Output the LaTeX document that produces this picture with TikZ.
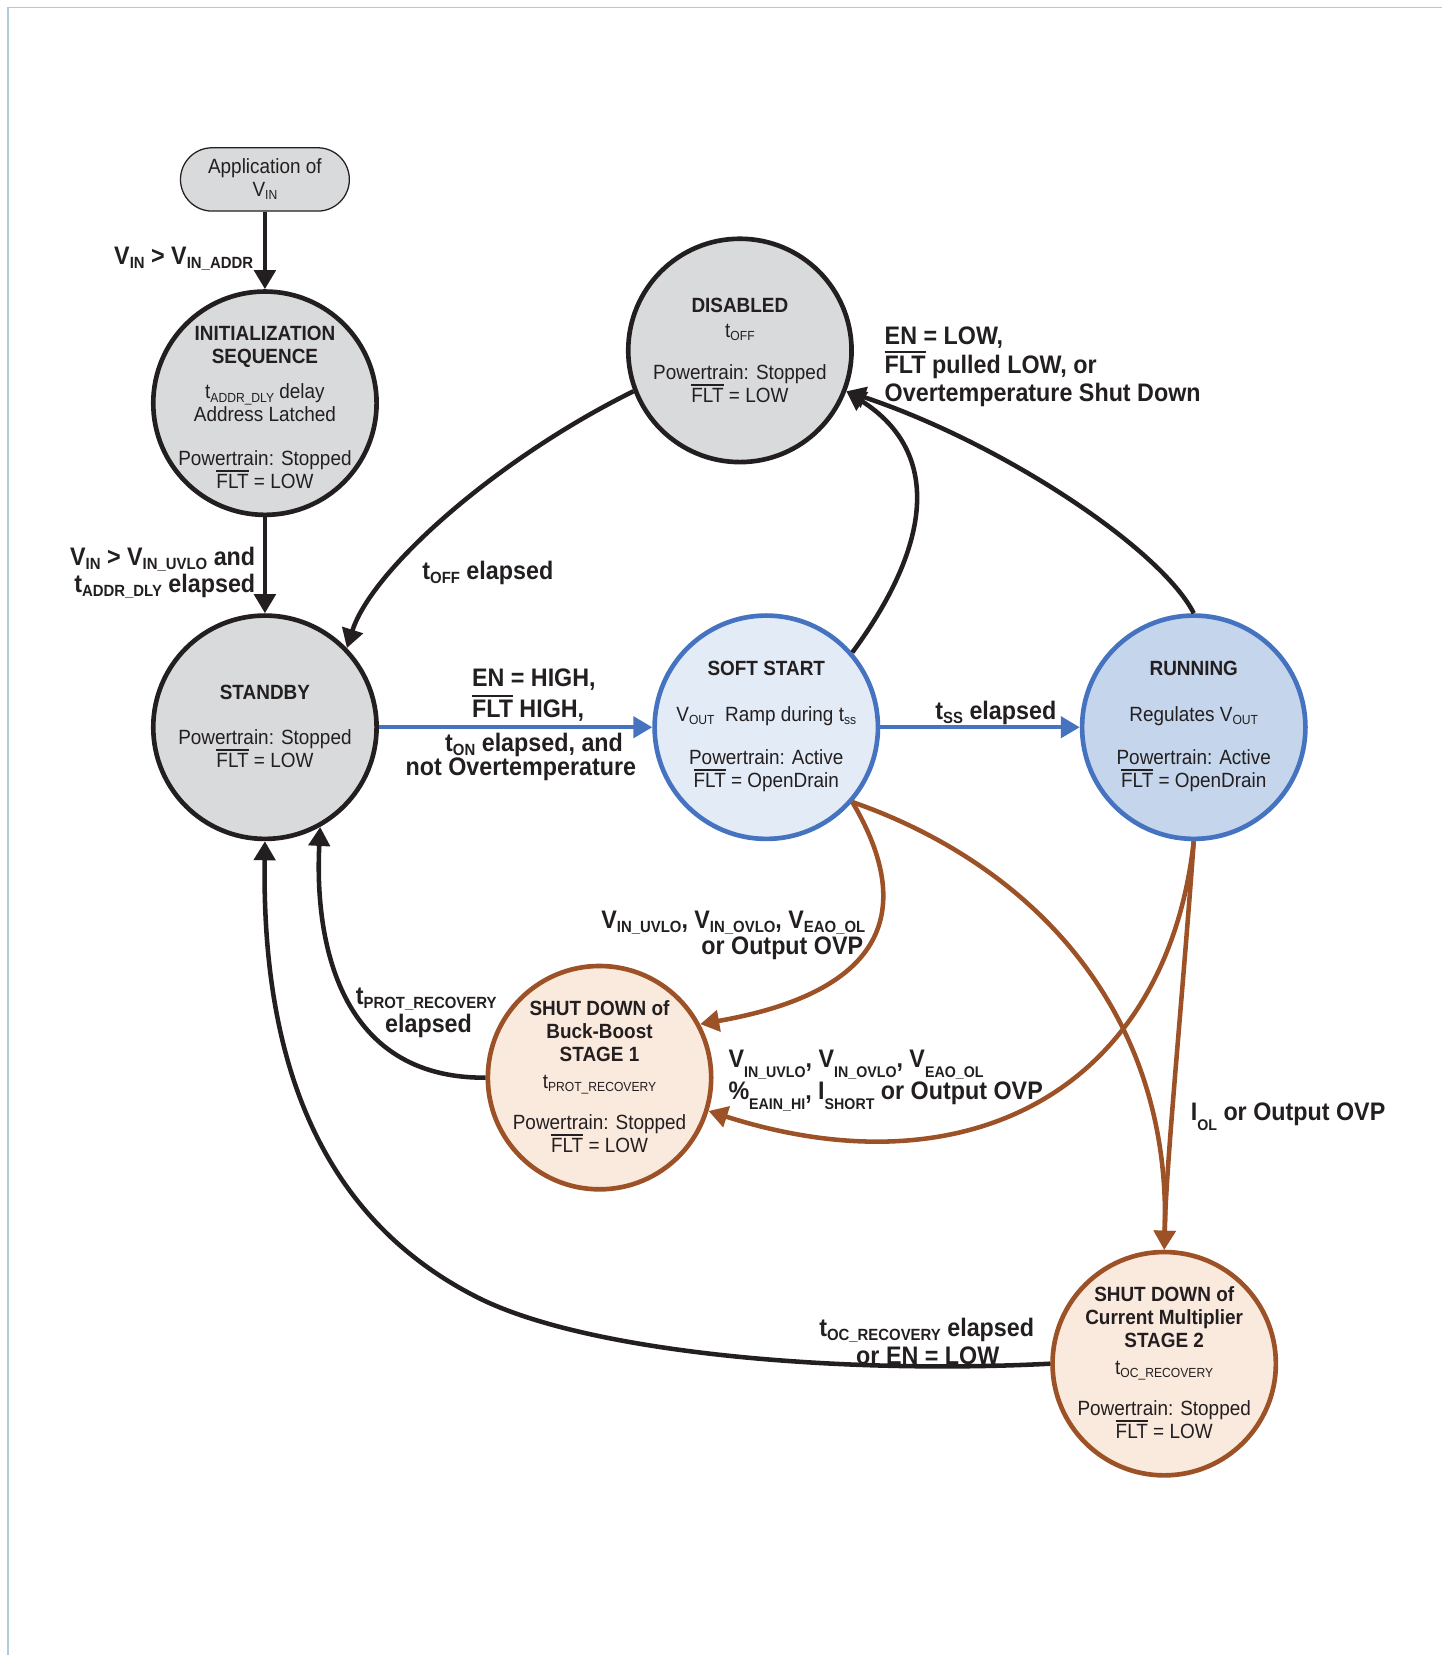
\documentclass[tikz,border=0pt]{standalone}
\usepackage{fontspec}
\newfontfamily\nf[FakeStretch=0.92]{Liberation Sans}
\usetikzlibrary{arrows.meta,shapes.misc}
\definecolor{ink}{HTML}{231F20}
\definecolor{grayfill}{HTML}{D9DADB}
\definecolor{ssfill}{HTML}{E3EBF6}
\definecolor{runfill}{HTML}{C5D5EC}
\definecolor{blueln}{HTML}{4673C0}
\definecolor{sdfill}{HTML}{FAE9DD}
\definecolor{brn}{HTML}{9C5226}
\definecolor{framec}{HTML}{AFCBD8}
\makeatletter
\newcommand\sbs[1]{\raisebox{-0.3ex}{\dimen@=0.64\dimexpr\f@size pt\relax\fontsize{\the\dimen@}{0pt}\selectfont #1}}
\newcommand\sbd[1]{\raisebox{-0.75ex}{\dimen@=0.61\dimexpr\f@size pt\relax\fontsize{\the\dimen@}{0pt}\selectfont #1}}
\makeatother
\newcommand\ov[1]{\leavevmode\vbox{\hrule height 0.075em\kern 0.12em\hbox{#1}}}
\lineskiplimit=-100pt
\begin{document}
\begin{tikzpicture}[x=1pt,y=-1pt,
  state/.style={circle, draw=ink, line width=4.4pt, fill=grayfill, minimum size=211.6pt, inner sep=0pt},
  ssstate/.style={state, draw=blueln, fill=ssfill},
  runstate/.style={state, draw=blueln, fill=runfill},
  sdstate/.style={state, draw=brn, fill=sdfill},
  txt/.style={font=\nf\fontsize{19.5}{21.5}\selectfont, text=ink, align=center, inner sep=0pt},
  lbl/.style={font=\nf\bfseries\fontsize{24}{27}\selectfont, text=ink, inner sep=0pt},
  tip/.style={-{Triangle[length=18pt,width=20pt]}},
  blk/.style={draw=ink, line width=4.3pt, tip},
  blu/.style={draw=blueln, line width=4pt, tip},
  brw/.style={draw=brn, line width=4.3pt, tip}]
\useasboundingbox (0,0) rectangle (1366,1568);
\draw[framec, line width=1.2pt] (7.5,1568) -- (7.5,7) -- (1366,7);

% states
\node[rounded rectangle, draw=ink, line width=1.2pt, fill=grayfill, minimum width=160pt, minimum height=60pt, inner sep=0pt] (app) at (251,170) {};
\node[txt] (app-t) at (app) {Application of\\V\sbs{IN}};

\node[state] (init) at (251,382) {};
\node[txt, yshift=-4pt] (init-t) at (init) {\textbf{INITIALIZATION}\\\textbf{SEQUENCE}\\[12.5pt]t\sbs{ADDR\_DLY} delay\\Address Latched\\[20.5pt]Powertrain: Stopped\\\ov{FLT} = LOW};

\node[state] (stby) at (251,689) {};
\node[txt, yshift=1pt] (stby-t) at (stby) {\textbf{STANDBY}\\[21.5pt]Powertrain: Stopped\\\ov{FLT} = LOW};

\node[state] (dis) at (701,332) {};
\node[txt] (dis-t) at (dis) {\textbf{DISABLED}\\[2.5pt]t\sbs{OFF}\\[18.5pt]Powertrain: Stopped\\\ov{FLT} = LOW};

\node[ssstate] (ss) at (726,689) {};
\node[txt, yshift=1pt] (ss-t) at (ss) {\textbf{SOFT START}\\[22.5pt]V\sbs{OUT}~ Ramp during t\sbs{ss}\\[19.5pt]Powertrain: Active\\\ov{FLT} = OpenDrain};

\node[runstate] (run) at (1131,689) {};
\node[txt, yshift=1pt] (run-t) at (run) {\textbf{RUNNING}\\[22.5pt]Regulates V\sbs{OUT}\\[19.5pt]Powertrain: Active\\\ov{FLT} = OpenDrain};

\node[sdstate] (bb) at (568,1021) {};
\node[txt, yshift=1pt] (bb-t) at (bb) {\textbf{SHUT DOWN of}\\\textbf{Buck-Boost}\\\textbf{STAGE 1}\\[4.5pt]t\sbs{PROT\_RECOVERY}\\[17.5pt]Powertrain: Stopped\\\ov{FLT} = LOW};

\node[sdstate] (cm) at (1103,1292) {};
\node[txt, yshift=1pt] (cm-t) at (cm) {\textbf{SHUT DOWN of}\\\textbf{Current Multiplier}\\\textbf{STAGE 2}\\[4.5pt]t\sbs{OC\_RECOVERY}\\[17.5pt]Powertrain: Stopped\\\ov{FLT} = LOW};

% connectors
\draw[blk] (app) -- (init);
\draw[blk] (init) -- (stby);
\draw[blu] (stby) -- (ss);
\draw[blu] (ss) -- (run);
\draw[blk] (dis.201) .. controls (470,435) and (352,540) .. (stby.44);
\draw[blk] (ss.41) .. controls (880,520) and (895,430) .. (dis.339);
\draw[blk] (run.north) .. controls (1100,520) and (950,420) .. (dis.339);
\draw[blk] (bb.west) .. controls (320,1022) and (298,890) .. (stby.299);
\draw[blk] (cm.west) .. controls (800,1302) and (559,1283) .. (452,1229) .. controls (300,1152) and (248,1000) .. (stby.south);
\draw[brw] (ss.319) .. controls (855,840) and (865,935) .. (bb.28);
\draw[brw] (ss.319) .. controls (980,820) and (1110,960) .. (cm.north);
\draw[brw] (run.south) .. controls (1105,1030) and (920,1132) .. (bb.343);
\draw[brw] (run.south) .. controls (1120,950) and (1105,1100) .. (cm.north);

% labels
\node[lbl, anchor=base east] (l1) at (240,250.6) {V\sbs{IN} > V\sbs{IN\_ADDR}};
\node[lbl, anchor=base east] (l2a) at (242,535.6) {V\sbs{IN} > V\sbs{IN\_UVLO} and};
\node[lbl, anchor=base east] (l2b) at (242,561.6) {t\sbs{ADDR\_DLY} elapsed};
\node[lbl, anchor=base west] (l3) at (400,548.6) {t\sbs{OFF} elapsed};
\node[lbl, anchor=base west] (l4a) at (447,650.6) {EN = HIGH,};
\node[lbl, anchor=base west] (l4b) at (447,679.6) {\ov{FLT} HIGH,};
\node[lbl, anchor=base] (l4c) at (506,711.6) {t\sbs{ON} elapsed, and};
\node[lbl, anchor=base] (l4d) at (493.5,734.6) {not Overtemperature};
\node[lbl, anchor=base west] (l5) at (886,681.6) {t\sbs{SS} elapsed};
\node[lbl, anchor=base west] (l6a) at (838,326.6) {EN = LOW,};
\node[lbl, anchor=base west] (l6b) at (838,353.6) {\ov{FLT} pulled LOW, or};
\node[lbl, anchor=base west] (l6c) at (838,380.6) {Overtemperature Shut Down};
\node[lbl, anchor=base east] (l7a) at (820,879.6) {V\sbs{IN\_UVLO}, V\sbs{IN\_OVLO}, V\sbs{EAO\_OL}};
\node[lbl, anchor=base east] (l7b) at (818,904.6) {or Output OVP};
\node[lbl, anchor=base west] (l8a) at (337,952) {t\sbs{PROT\_RECOVERY}};
\node[lbl, anchor=base] (l8b) at (406,978.6) {elapsed};
\node[lbl, anchor=base west] (l9a) at (690,1011.6) {V\sbd{IN\_UVLO}, V\sbd{IN\_OVLO}, V\sbd{EAO\_OL}};
\node[lbl, anchor=base west] (l9b) at (690,1041.6) {\%\sbd{EAIN\_HI}, I\sbd{SHORT} or Output OVP};
\node[lbl, anchor=base west] (l10) at (1128,1061.6) {I\sbd{OL} or Output OVP};
\node[lbl, anchor=base west] (l11a) at (776,1266.6) {t\sbs{OC\_RECOVERY} elapsed};
\node[lbl, anchor=base] (l11b) at (879,1292.6) {or EN = LOW};
\end{tikzpicture}
\end{document}
